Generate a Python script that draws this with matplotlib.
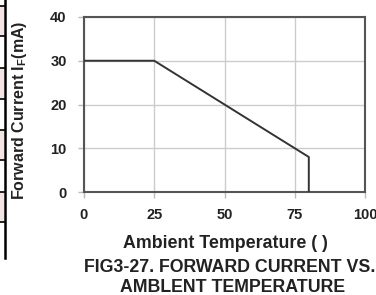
"""
Forward current vs. ambient temperature derating curve
"""

import matplotlib
matplotlib.use("Agg")
import matplotlib.pyplot as plt
from matplotlib.lines import Line2D
from matplotlib.patches import Rectangle

# derating curve: temperature (deg C) -> max forward current (mA)
temp_c = [0, 25, 80, 80]
current_ma = [30, 30, 8, 0]

x_ticks = [0, 25, 50, 75, 100]
y_ticks = [0, 10, 20, 30, 40]

# table fragment rows on the left edge (figure pixel y)
table_rows = [6, 36, 68, 99, 130, 160, 192, 222]

plt.rcParams['font.family'] = ['Liberation Sans', 'DejaVu Sans']

fig = plt.figure(figsize=(3.76, 2.95), dpi=100)
W, H = 376, 295
ax = fig.add_axes([84 / W, 1 - 192 / H, (365 - 84) / W, (192 - 17) / H])

ax.plot(temp_c, current_ma, color='#333333', linewidth=1.4, zorder=3)

ax.set_xlim(0, 100)
ax.set_ylim(0, 40)
ax.set_xticks(x_ticks)
ax.set_yticks(y_ticks)
ax.grid(True, color='#cccccc', linewidth=1.0)
ax.set_axisbelow(True)
for s in ax.spines.values():
    s.set_color('#555555')
    s.set_linewidth(1.5)
ax.tick_params(length=4.5, color='#bbbbbb', width=1.0, labelsize=10.5)
ax.tick_params(axis='y', pad=8)
ax.tick_params(axis='x', pad=7)
for lbl in ax.get_xticklabels() + ax.get_yticklabels():
    lbl.set_fontweight('bold')
    lbl.set_color('#222222')

# axis label texts
fig.text(20 / W, 1 - 110 / H, 'Forward Current I$_\\mathregular{F}$(mA)', rotation=90,
         ha='center', va='center', fontsize=11.5, fontweight='bold', color='#222222')
fig.text(225 / W, 1 - 244 / H, 'Ambient Temperature ( )', ha='center', va='center',
         fontsize=12.8, fontweight='bold', color='#222222')
fig.text(230 / W, 1 - 267 / H, 'FIG3-27. FORWARD CURRENT VS.', ha='center', va='center',
         fontsize=12.8, fontweight='bold', color='#222222')
fig.text(233 / W, 1 - 287 / H, 'AMBLENT TEMPERATURE', ha='center', va='center',
         fontsize=12.8, fontweight='bold', color='#222222')

# cut-off table border at the left edge
for top, bot in zip(table_rows[0::2], table_rows[1::2]):
    fig.add_artist(Rectangle((0, 1 - bot / H), 3.5 / W, (bot - top) / H,
                             transform=fig.transFigure, facecolor='#f3e3e3', edgecolor='none'))
fig.add_artist(Line2D([4.5 / W, 4.5 / W], [1, 1 - 258 / H], color='black', linewidth=1.8))
for r in table_rows:
    fig.add_artist(Line2D([0, 4.5 / W], [1 - r / H, 1 - r / H], color='black', linewidth=1.2))

fig.savefig('out.png', dpi=100)
